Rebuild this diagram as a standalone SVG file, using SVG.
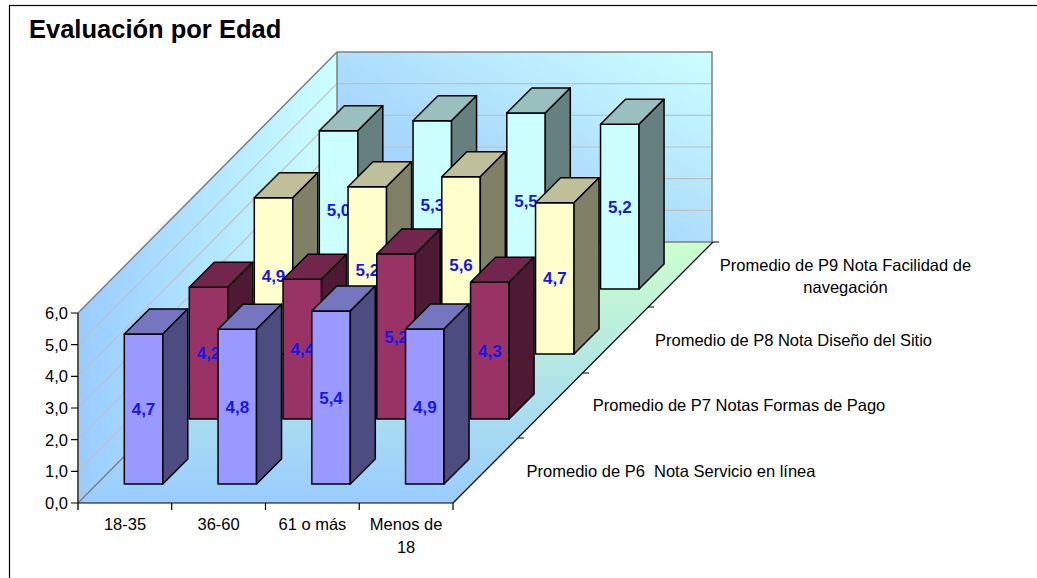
<svg xmlns="http://www.w3.org/2000/svg" width="1037" height="578" viewBox="0 0 1037 578">
<defs>
<linearGradient id="gBack" x1="1" y1="0" x2="0" y2="1">
<stop offset="0" stop-color="#CCFFFF"/><stop offset="0.6" stop-color="#A8D8FC"/><stop offset="1" stop-color="#99CCFF"/>
</linearGradient>
<linearGradient id="gLeft" gradientUnits="userSpaceOnUse" x1="78" y1="0" x2="337" y2="0">
<stop offset="0" stop-color="#99CCFF"/><stop offset="1" stop-color="#CCFFFF"/>
</linearGradient>
<linearGradient id="gFloor" gradientUnits="userSpaceOnUse" x1="0" y1="503" x2="0" y2="242">
<stop offset="0" stop-color="#99CCFF"/><stop offset="1" stop-color="#CCFFCC"/>
</linearGradient>
<style>
.ax{font-family:"Liberation Sans",Arial,sans-serif;font-size:16.5px;fill:#000}
.val{font-family:"Liberation Sans",Arial,sans-serif;font-size:17px;font-weight:bold;fill:#1515F5;text-anchor:middle}
.bar *{stroke:#000;stroke-width:1.5;stroke-linejoin:round}
.p6 .f{fill:#9999FF}.p6 .t{fill:#7575C0}.p6 .s{fill:#4C4C80}
.p7 .f{fill:#993366}.p7 .t{fill:#73264D}.p7 .s{fill:#4D1933}
.p8 .f{fill:#FFFFCC}.p8 .t{fill:#BFBF99}.p8 .s{fill:#808066}
.p9 .f{fill:#CCFFFF}.p9 .t{fill:#99BFBF}.p9 .s{fill:#668080}
.bar text{stroke:none}
.grid{stroke:#C0C0C0;stroke-width:1.2;fill:none}
.edge{stroke:#808080;stroke-width:1.5;fill:none}
.axis{stroke:#000;stroke-width:1.2;fill:none}
.pre{white-space:pre}
</style>
</defs>
<rect x="9.5" y="5.5" width="1040" height="580" fill="#fff" stroke="#000" stroke-width="1.2"/>
<text x="29" y="38" font-family="Liberation Sans, Arial, sans-serif" font-size="25.5" font-weight="bold">Evaluación por Edad</text>

<g id="walls">
<polygon points="78,313 337,52 337,242 78,503" fill="url(#gLeft)"/>
<rect x="337" y="52" width="375" height="190" fill="url(#gBack)"/>
<polygon points="78,503 337,242 713,242 453,503" fill="url(#gFloor)"/>
<g class="grid">
<line x1="78" y1="471.3" x2="337" y2="210.3"/><line x1="78" y1="439.7" x2="337" y2="178.7"/>
<line x1="78" y1="408" x2="337" y2="147"/><line x1="78" y1="376.3" x2="337" y2="115.3"/>
<line x1="78" y1="344.7" x2="337" y2="83.7"/>
<line x1="337" y1="210.3" x2="712" y2="210.3"/><line x1="337" y1="178.7" x2="712" y2="178.7"/>
<line x1="337" y1="147" x2="712" y2="147"/><line x1="337" y1="115.3" x2="712" y2="115.3"/>
<line x1="337" y1="83.7" x2="712" y2="83.7"/>
</g>
<g class="edge">
<polyline points="78,313 337,52 712,52 712,242 337,242 337,52"/>
<line x1="78" y1="503" x2="337" y2="242"/>
</g>
</g>

<g id="axes">
<g class="axis">
<line x1="78" y1="313" x2="78" y2="510" stroke="#555" stroke-width="2"/>
<path d="M71,313H78M71,344.7H78M71,376.3H78M71,408H78M71,439.7H78M71,471.3H78M71,503H78"/>
<line x1="78" y1="503" x2="453" y2="503"/>
<path d="M171.75,503V510M265.5,503V510M359.25,503V510M453,503V510"/>
<line x1="453" y1="503" x2="713" y2="242"/>
<path d="M518,438H524M583,373H589M648,307H654M713,242H719"/>
</g>
<g class="ax" text-anchor="end">
<text x="68" y="319">6,0</text><text x="68" y="350.7">5,0</text><text x="68" y="382.3">4,0</text>
<text x="68" y="414">3,0</text><text x="68" y="445.7">2,0</text><text x="68" y="477.3">1,0</text>
<text x="68" y="509">0,0</text>
</g>
<g class="ax" text-anchor="middle">
<text x="125" y="530">18-35</text><text x="218.6" y="530">36-60</text>
<text x="312.4" y="530">61 o más</text><text x="406.1" y="530">Menos de</text>
<text x="406.1" y="553">18</text>
<text class="pre" x="671" y="477" xml:space="preserve">Promedio de P6  Nota Servicio en línea</text>
<text x="739" y="411">Promedio de P7 Notas Formas de Pago</text>
<text x="793.5" y="346">Promedio de P8 Nota Diseño del Sitio</text>
<text x="845.5" y="271">Promedio de P9 Nota Facilidad de</text>
<text x="845.5" y="293">navegación</text>
</g>
</g>

<g id="series-p9" class="bar p9">
<g id="bar-p9-1835"><rect class="f" x="319.3" y="130.7" width="38.5" height="158.3"/><polygon class="t" points="319.3,130.7 357.8,130.7 382.8,105.7 344.3,105.7"/><polygon class="s" points="357.8,130.7 382.8,105.7 382.8,264 357.8,289"/><text class="val" x="338.5" y="215.8">5,0</text></g>
<g id="bar-p9-3660"><rect class="f" x="413.05" y="120.7" width="38.5" height="168.3"/><polygon class="t" points="413.05,120.7 451.55,120.7 476.55,95.7 438.05,95.7"/><polygon class="s" points="451.55,120.7 476.55,95.7 476.55,264 451.55,289"/><text class="val" x="432.3" y="210.8">5,3</text></g>
<g id="bar-p9-61"><rect class="f" x="506.8" y="113" width="38.5" height="176"/><polygon class="t" points="506.8,113 545.3,113 570.3,88 531.8,88"/><polygon class="s" points="545.3,113 570.3,88 570.3,264 545.3,289"/><text class="val" x="526" y="207">5,5</text></g>
<g id="bar-p9-m18"><rect class="f" x="600.55" y="124.3" width="38.5" height="164.7"/><polygon class="t" points="600.55,124.3 639.05,124.3 664.05,99.3 625.55,99.3"/><polygon class="s" points="639.05,124.3 664.05,99.3 664.05,264 639.05,289"/><text class="val" x="619.8" y="212.6">5,2</text></g>
</g>

<g id="series-p8" class="bar p8">
<g id="bar-p8-1835"><rect class="f" x="254.3" y="197.7" width="38.5" height="156.3"/><polygon class="t" points="254.3,197.7 292.8,197.7 317.8,172.7 279.3,172.7"/><polygon class="s" points="292.8,197.7 317.8,172.7 317.8,329 292.8,354"/><text class="val" x="273.5" y="281.8">4,9</text></g>
<g id="bar-p8-3660"><rect class="f" x="348.05" y="186.7" width="38.5" height="167.3"/><polygon class="t" points="348.05,186.7 386.55,186.7 411.55,161.7 373.05,161.7"/><polygon class="s" points="386.55,186.7 411.55,161.7 411.55,329 386.55,354"/><text class="val" x="367.3" y="276.3">5,2</text></g>
<g id="bar-p8-61"><rect class="f" x="441.8" y="176.7" width="38.5" height="177.3"/><polygon class="t" points="441.8,176.7 480.3,176.7 505.3,151.7 466.8,151.7"/><polygon class="s" points="480.3,176.7 505.3,151.7 505.3,329 480.3,354"/><text class="val" x="461" y="271.3">5,6</text></g>
<g id="bar-p8-m18"><rect class="f" x="535.55" y="202.7" width="38.5" height="151.3"/><polygon class="t" points="535.55,202.7 574.05,202.7 599.05,177.7 560.55,177.7"/><polygon class="s" points="574.05,202.7 599.05,177.7 599.05,329 574.05,354"/><text class="val" x="554.8" y="284.3">4,7</text></g>
</g>

<g id="series-p7" class="bar p7">
<g id="bar-p7-1835"><rect class="f" x="189.3" y="287.3" width="38.5" height="131.7"/><polygon class="t" points="189.3,287.3 227.8,287.3 252.8,262.3 214.3,262.3"/><polygon class="s" points="227.8,287.3 252.8,262.3 252.8,394 227.8,419"/><text class="val" x="208.5" y="359.2">4,2</text></g>
<g id="bar-p7-3660"><rect class="f" x="283.05" y="279.3" width="38.5" height="139.7"/><polygon class="t" points="283.05,279.3 321.55,279.3 346.55,254.3 308.05,254.3"/><polygon class="s" points="321.55,279.3 346.55,254.3 346.55,394 321.55,419"/><text class="val" x="302.3" y="355.2">4,4</text></g>
<g id="bar-p7-61"><rect class="f" x="376.8" y="254" width="38.5" height="165"/><polygon class="t" points="376.8,254 415.3,254 440.3,229 401.8,229"/><polygon class="s" points="415.3,254 440.3,229 440.3,394 415.3,419"/><text class="val" x="396" y="342.5">5,2</text></g>
<g id="bar-p7-m18"><rect class="f" x="470.55" y="282.3" width="38.5" height="136.7"/><polygon class="t" points="470.55,282.3 509.05,282.3 534.05,257.3 495.55,257.3"/><polygon class="s" points="509.05,282.3 534.05,257.3 534.05,394 509.05,419"/><text class="val" x="489.8" y="356.7">4,3</text></g>
</g>

<g id="series-p6" class="bar p6">
<g id="bar-p6-1835"><rect class="f" x="124.3" y="334" width="38.5" height="150"/><polygon class="t" points="124.3,334 162.8,334 187.8,309 149.3,309"/><polygon class="s" points="162.8,334 187.8,309 187.8,459 162.8,484"/><text class="val" x="143.5" y="415">4,7</text></g>
<g id="bar-p6-3660"><rect class="f" x="218.05" y="329.3" width="38.5" height="154.7"/><polygon class="t" points="218.05,329.3 256.55,329.3 281.55,304.3 243.05,304.3"/><polygon class="s" points="256.55,329.3 281.55,304.3 281.55,459 256.55,484"/><text class="val" x="237.3" y="412.7">4,8</text></g>
<g id="bar-p6-61"><rect class="f" x="311.8" y="311" width="38.5" height="173"/><polygon class="t" points="311.8,311 350.3,311 375.3,286 336.8,286"/><polygon class="s" points="350.3,311 375.3,286 375.3,459 350.3,484"/><text class="val" x="331" y="403.5">5,4</text></g>
<g id="bar-p6-m18"><rect class="f" x="405.55" y="329" width="38.5" height="155"/><polygon class="t" points="405.55,329 444.05,329 469.05,304 430.55,304"/><polygon class="s" points="444.05,329 469.05,304 469.05,459 444.05,484"/><text class="val" x="424.8" y="412.5">4,9</text></g>
</g>
</svg>
